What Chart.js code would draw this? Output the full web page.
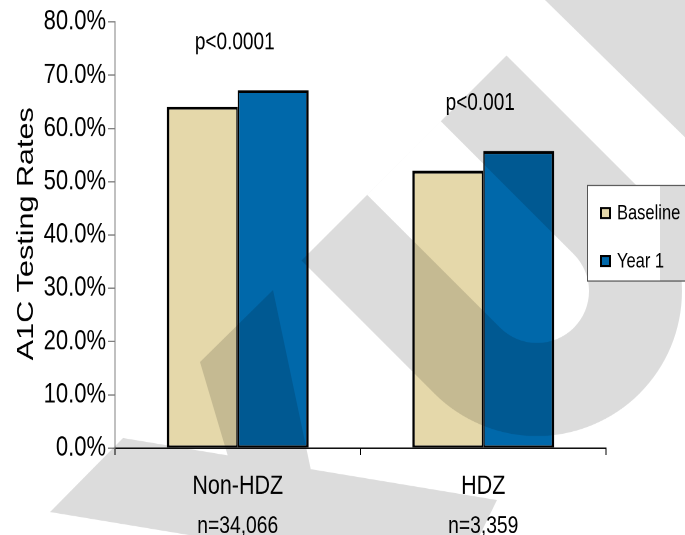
<!DOCTYPE html>
<html>
<head>
<meta charset="utf-8">
<script src="https://cdn.jsdelivr.net/npm/chart.js@4.4.1/dist/chart.umd.min.js"></script>
<style>
  html, body { margin: 0; padding: 0; background: #ffffff; overflow: hidden; width: 685px; height: 535px; }
  /* the chart is laid out 428px tall and shown stretched to 535px */
  #chart { display: block; transform: scaleY(1.25); transform-origin: 0 0; }
</style>
</head>
<body>
<canvas id="chart" width="685" height="428"></canvas>
<script>
// ---- data ----
const categories = ['Non-HDZ', 'HDZ'];
const sampleSizes = ['n=34,066', 'n=3,359'];
const seriesNames = ['Baseline', 'Year 1'];
const baselineRates = [64.1, 52.1];
const year1Rates = [67.2, 55.8];
const pValueLabels = ['p<0.0001', 'p<0.001'];
const yAxisTitle = 'A1C Testing Rates';
const yTickMin = 0;
const yTickMax = 80;
const yTickStep = 10;

// ---- styles ----
const STRETCH = 1.25;                       // vertical display stretch
const FONT = '"Liberation Sans", Arial, Helvetica, sans-serif';
const seriesColors = ['#E5D8AA', '#0068AA'];
const SHADE = 'rgba(0,0,0,0.137)';

// Background logo, drawn as a translucent layer (coordinates in displayed pixels)
function drawLogo(ctx) {
  ctx.save();
  ctx.scale(1, 1 / STRETCH);
  ctx.fillStyle = SHADE;

  ctx.beginPath();
  ctx.moveTo(545, 0); ctx.lineTo(700, 0); ctx.lineTo(700, 152); ctx.closePath();
  ctx.moveTo(200, 362); ctx.lineTo(273, 290); ctx.lineTo(312, 475); ctx.lineTo(232, 470); ctx.closePath();
  ctx.moveTo(50, 512); ctx.lineTo(123, 438); ctx.lineTo(497, 500); ctx.lineTo(475, 545); ctx.lineTo(249, 545); ctx.closePath();
  ctx.fill('nonzero');

  // hairpin band with a slot, rounded at its lower-right end
  const cx = 537, cy = 291, R = 145, r = 52, capSum = 562;
  const d = Math.SQRT1_2;
  function hairpinEdge(rad) {
    const t1 = [cx + rad * d, cy - rad * d];
    const t2 = [cx - rad * d, cy + rad * d];
    const k1 = (t1[0] + t1[1] - capSum) / 2;
    const k2 = (t2[0] + t2[1] - capSum) / 2;
    ctx.moveTo(t1[0] - k1, t1[1] - k1);
    ctx.lineTo(t1[0], t1[1]);
    ctx.arc(cx, cy, rad, -Math.PI / 4, 3 * Math.PI / 4, false);
    ctx.lineTo(t2[0] - k2, t2[1] - k2);
    ctx.closePath();
  }
  ctx.beginPath();
  hairpinEdge(R);
  hairpinEdge(r);
  ctx.fill('evenodd');
  ctx.restore();
}

const overlayPlugin = {
  id: 'overlay',
  afterDraw(chart) {
    const ctx = chart.ctx;
    const xs = chart.scales.x;
    const ys = chart.scales.y;

    // rotated y-axis title
    ctx.save();
    ctx.translate(33, ys.top + (ys.bottom - ys.top) / 2 - 1);
    ctx.rotate(-Math.PI / 2);
    ctx.scale(1.04, 1);
    ctx.font = '23.5px ' + FONT;
    ctx.fillStyle = '#000';
    ctx.textAlign = 'center';
    ctx.textBaseline = 'alphabetic';
    ctx.fillText(yAxisTitle, 0, 0);
    ctx.restore();

    // significance labels above each group
    ctx.save();
    ctx.font = '19px ' + FONT;
    ctx.fillStyle = '#000';
    ctx.textAlign = 'center';
    ctx.textBaseline = 'alphabetic';
    categories.forEach((c, i) => {
      const x = xs.getPixelForValue(i);
      const top = ys.getPixelForValue(Math.max(baselineRates[i], year1Rates[i]));
      ctx.fillText(pValueLabels[i], x - 3, top - 32.5);
    });
    ctx.restore();

    // sample sizes under the category names
    ctx.save();
    ctx.font = '19.3px ' + FONT;
    ctx.fillStyle = '#000';
    ctx.textAlign = 'center';
    ctx.textBaseline = 'alphabetic';
    categories.forEach((c, i) => {
      ctx.fillText(sampleSizes[i], xs.getPixelForValue(i), xs.bottom - 1.6);
    });
    ctx.restore();

    drawLogo(ctx);

    // legend box
    ctx.save();
    const lx = 587, ly = 148, lw = 110, lh = 76.8;
    ctx.fillStyle = '#fff';
    ctx.fillRect(lx, ly, lw, lh);
    ctx.strokeStyle = '#555';
    ctx.lineWidth = 1;
    ctx.strokeRect(lx + 0.5, ly + 0.4, lw, lh - 0.4);
    ctx.font = '16.5px ' + FONT;
    ctx.textAlign = 'left';
    ctx.textBaseline = 'middle';
    chart.data.datasets.forEach((ds, i) => {
      const yc = 170.4 + i * 38.4;
      ctx.fillStyle = '#000';
      ctx.fillRect(600, yc - 4.8, 11, 9.6);
      ctx.fillStyle = ds.backgroundColor;
      ctx.fillRect(602, yc - 3.2, 7, 6.4);
      ctx.fillStyle = '#000';
      ctx.fillText(ds.label, 617, yc + 0.5);
    });
    ctx.fillStyle = SHADE;
    ctx.fillRect(660, ly + 1, 30, lh - 1);
    ctx.restore();
  }
};

new Chart(document.getElementById('chart'), {
  type: 'bar',
  data: {
    labels: categories,
    datasets: [
      {
        label: seriesNames[0],
        data: baselineRates,
        backgroundColor: seriesColors[0],
        borderColor: '#000',
        borderWidth: { top: 2.4, left: 2.5, right: 1.5, bottom: 1.6 },
        borderSkipped: false
      },
      {
        label: seriesNames[1],
        data: year1Rates,
        backgroundColor: seriesColors[1],
        borderColor: '#000',
        borderWidth: { top: 2.4, left: 1.5, right: 2.5, bottom: 1.6 },
        borderSkipped: false
      }
    ]
  },
  options: {
    responsive: false,
    animation: false,
    devicePixelRatio: 2,
    categoryPercentage: 0.578,
    barPercentage: 1,
    layout: { padding: { top: 17.6, right: 79, bottom: 0, left: 0 } },
    plugins: {
      legend: { display: false },
      tooltip: { enabled: false }
    },
    scales: {
      x: {
        grid: { display: true, drawOnChartArea: false, offset: true, tickLength: 5.6, color: '#000' },
        border: { color: '#000', width: 1 },
        ticks: { font: { family: FONT, size: 21.5 }, color: '#000', padding: 12 },
        afterFit(s) { s.height = 69.6; }
      },
      y: {
        min: yTickMin,
        max: yTickMax,
        ticks: {
          stepSize: yTickStep,
          font: { family: FONT, size: 22 },
          color: '#000',
          padding: 2,
          callback: v => v.toFixed(1) + '%'
        },
        grid: { drawOnChartArea: false, tickLength: 7, color: '#808080' },
        border: { color: '#808080', width: 1 },
        afterFit(s) { s.width = 115; }
      }
    }
  },
  plugins: [overlayPlugin]
});
</script>
</body>
</html>
